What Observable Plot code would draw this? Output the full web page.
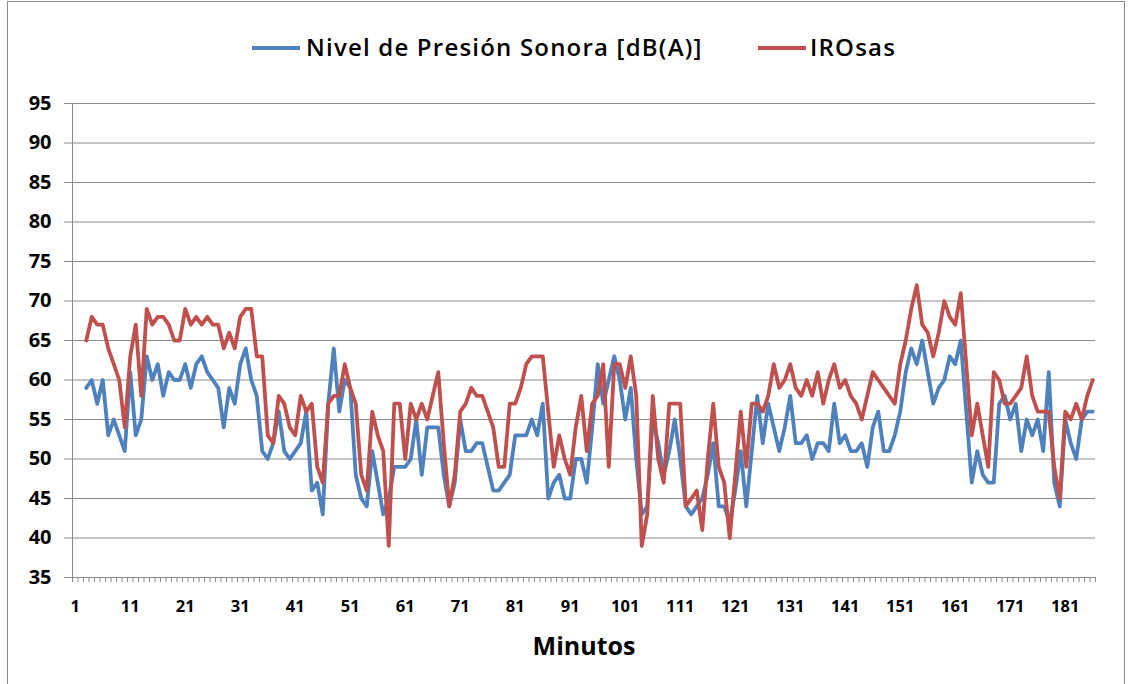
<!DOCTYPE html>
<html>
<head>
<meta charset="utf-8">
<script src="https://cdn.jsdelivr.net/npm/d3@7"></script>
<script src="https://cdn.jsdelivr.net/npm/@observablehq/plot@0.6"></script>
<style>
  html, body { margin: 0; padding: 0; background: #fff; }
  #chart { position: relative; width: 1132px; height: 684px; overflow: hidden; font-family: "Open Sans", sans-serif; }
  #frame { position: absolute; left: 7px; top: 1px; width: 1118px; height: 700px; border: 1px solid #8a8a8a; box-sizing: border-box; }
  #legend { position: absolute; left: 0; top: 0; width: 1132px; height: 75px; }
  .sw { position: absolute; height: 4px; top: 46px; }
  .lt { position: absolute; top: 31px; font-size: 24px; font-weight: 600; letter-spacing: 1.2px; color: #000; white-space: nowrap; line-height: 32px; }
  #plot { position: absolute; left: 0; top: 75px; }
</style>
</head>
<body>
<div id="chart">
  <div id="frame"></div>
  <div id="legend"></div>
  <div id="plot"></div>
</div>
<script>
const seriesNames = ["Nivel de Presión Sonora [dB(A)]", "IROsas"];
const seriesColors = ["#4F81BD", "#C0504D"];
const xLabel = "Minutos";
const minutes = d3.range(3, 187);
const nivel = [
  59,60,57,60,53,55,53,51,61,53,
  55,63,60,62,58,61,60,60,62,59,
  62,63,61,60,59,54,59,57,62,64,
  60,58,51,50,52,56,51,50,51,52,
  56,46,47,43,57,64,56,60,59,48,
  45,44,51,47,43,45,49,49,49,50,
  55,48,54,54,54,48,44,47,55,51,
  51,52,52,49,46,46,47,48,53,53,
  53,55,53,57,45,47,48,45,45,50,
  50,47,54,62,57,60,63,60,55,59,
  50,43,44,55,52,48,51,55,50,44,
  43,44,45,48,52,44,44,42,46,51,
  44,51,58,52,57,54,51,54,58,52,
  52,53,50,52,52,51,57,52,53,51,
  51,52,49,54,56,51,51,53,56,61,
  64,62,65,61,57,59,60,63,62,65,
  56,47,51,48,47,47,57,58,55,57,
  51,55,53,55,51,61,47,44,55,52,
  50,55,56,56
];
const irosas = [
  65,68,67,67,64,62,60,54,63,67,
  58,69,67,68,68,67,65,65,69,67,
  68,67,68,67,67,64,66,64,68,69,
  69,63,63,53,52,58,57,54,53,58,
  56,57,49,47,57,58,58,62,59,57,
  48,46,56,53,51,39,57,57,50,57,
  55,57,55,58,61,52,44,48,56,57,
  59,58,58,56,54,49,49,57,57,59,
  62,63,63,63,56,49,53,50,48,54,
  58,51,57,58,62,49,62,62,59,63,
  58,39,43,58,50,47,57,57,57,44,
  45,46,41,50,57,49,47,40,48,56,
  49,57,57,56,58,62,59,60,62,59,
  58,60,58,61,57,60,62,59,60,58,
  57,55,58,61,60,59,58,57,62,65,
  69,72,67,66,63,66,70,68,67,71,
  62,53,57,53,49,61,60,57,57,58,
  59,63,58,56,56,56,49,45,56,55,
  57,55,58,60
];
const xTickLabels = d3.range(1, 187, 10);
const yTicks = d3.range(35, 96, 5);
const categoryEdges = d3.range(0.5, 187, 1);

const nivelData = minutes.map((m, i) => ({m, v: nivel[i]}));
const irosasData = minutes.map((m, i) => ({m, v: irosas[i]}));

// Legend
const legend = document.getElementById("legend");
const legendItems = [
  {name: seriesNames[0], color: seriesColors[0], sx: 252, tx: 306},
  {name: seriesNames[1], color: seriesColors[1], sx: 758, tx: 810}
];
for (const it of legendItems) {
  const sw = document.createElement("div");
  sw.className = "sw";
  sw.style.left = it.sx + "px";
  sw.style.width = "48px";
  sw.style.background = it.color;
  legend.appendChild(sw);
  const t = document.createElement("div");
  t.className = "lt";
  t.style.left = it.tx + "px";
  t.textContent = it.name;
  legend.appendChild(t);
}

const grid = "#8a8a8a";
const chart = Plot.plot({
  width: 1132,
  height: 609,
  marginLeft: 72,
  marginRight: 37,
  marginTop: 28,
  marginBottom: 107,
  x: {type: "linear", domain: [0.5, 186.5]},
  y: {domain: [35, 95]},
  style: {fontFamily: "'Open Sans', sans-serif", background: "transparent", color: "#000", overflow: "visible"},
  marks: [
    Plot.gridY(yTicks, {stroke: grid, strokeOpacity: 1, strokeWidth: 1}),
    Plot.ruleX([0.5], {stroke: grid, strokeWidth: 1}),
    Plot.axisY(yTicks, {tickSize: 8, tickPadding: 13, fontSize: 20, fontWeight: 700, stroke: grid, fill: "#000", label: null}),
    Plot.axisX(categoryEdges, {tickSize: 5, tickFormat: () => "", stroke: grid, label: null}),
    Plot.axisX(xTickLabels, {tickSize: 0, tickPadding: 23, fontSize: 16.5, fontWeight: 700, fill: "#000", label: null}),
    Plot.lineY(nivelData, {x: "m", y: "v", stroke: seriesColors[0], strokeWidth: 3.8, strokeLinejoin: "round"}),
    Plot.lineY(irosasData, {x: "m", y: "v", stroke: seriesColors[1], strokeWidth: 3.8, strokeLinejoin: "round"}),
    Plot.text([xLabel], {frameAnchor: "bottom", dy: 77, fontSize: 25, fontWeight: 700, fill: "#000"})
  ]
});
document.getElementById("plot").appendChild(chart);
</script>
</body>
</html>
